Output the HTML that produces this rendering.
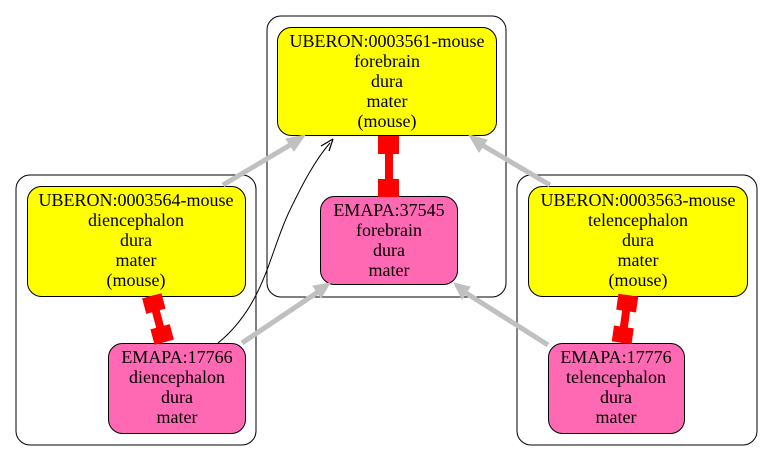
<!DOCTYPE html>
<html><head><style>body{margin:0;background:#fff}svg{display:block}</style></head>
<body>
<svg width="773" height="461" viewBox="0 0 773 461" xmlns="http://www.w3.org/2000/svg" font-family="'Liberation Serif', 'Times New Roman', serif" font-size="18">
<g fill="none" stroke="#000" stroke-width="1">
<rect x="267" y="16" width="239" height="281" rx="14"/>
<rect x="16" y="175" width="240" height="270" rx="14"/>
<rect x="517" y="175" width="240" height="270" rx="14"/>
</g>
<g stroke="#000" stroke-width="1">
<rect x="277.5" y="27.5" width="219" height="108" rx="14" fill="#ffff00"/>
<rect x="320.5" y="196.5" width="137" height="88" rx="14" fill="#ff69b4"/>
<rect x="27.5" y="186.5" width="218" height="110" rx="14" fill="#ffff00"/>
<rect x="108.5" y="343.5" width="137" height="90" rx="14" fill="#ff69b4"/>
<rect x="528.5" y="186.5" width="219" height="110" rx="14" fill="#ffff00"/>
<rect x="548.5" y="343.5" width="136" height="90" rx="14" fill="#ff69b4"/>
</g>
<g stroke="#c0c0c0" stroke-width="5" fill="#c0c0c0">
<line x1="223" y1="185" x2="290" y2="145"/>
<polygon points="305,135 286,139 294,151" stroke-width="1"/>
<line x1="550" y1="185" x2="482" y2="145"/>
<polygon points="469,135 479,152 487,140" stroke-width="1"/>
<line x1="242" y1="343" x2="318" y2="292"/>
<polygon points="330,283 313,286 321,298" stroke-width="1"/>
<line x1="548" y1="345" x2="466" y2="293"/>
<polygon points="454,283 462,299 470,287" stroke-width="1"/>
</g>
<path d="M218,343 C265,305 270,250 290,210 C302,185 315,160 330,143" fill="none" stroke="#000" stroke-width="1"/>
<path d="M333,139 L321,146 M333,139 L329,151" stroke="#000" stroke-width="1.2" fill="none"/>
<g fill="#ff0000">
<rect x="385" y="136" width="8" height="60"/>
<rect x="378" y="136" width="21" height="18"/>
<rect x="378" y="179" width="21" height="18"/>
<g transform="translate(158,319) rotate(-15)">
<rect x="-4" y="-24" width="8" height="48"/>
<rect x="-10" y="-24" width="20" height="16"/>
<rect x="-10" y="8" width="20" height="16"/>
</g>
<g transform="translate(625,319) rotate(8)">
<rect x="-4" y="-24" width="8" height="48"/>
<rect x="-10" y="-24" width="20" height="16"/>
<rect x="-10" y="8" width="20" height="16"/>
</g>
</g>
<g text-anchor="middle" fill="#000">
<text x="387" y="47">UBERON:0003561-mouse</text>
<text x="387" y="67">forebrain</text>
<text x="387" y="87">dura</text>
<text x="387" y="107">mater</text>
<text x="387" y="127">(mouse)</text>
<text x="389" y="216">EMAPA:37545</text>
<text x="389" y="236">forebrain</text>
<text x="389" y="256">dura</text>
<text x="389" y="276">mater</text>
<text x="136" y="206">UBERON:0003564-mouse</text>
<text x="136" y="226">diencephalon</text>
<text x="136" y="246">dura</text>
<text x="136" y="266">mater</text>
<text x="136" y="286">(mouse)</text>
<text x="177" y="363">EMAPA:17766</text>
<text x="177" y="383">diencephalon</text>
<text x="177" y="403">dura</text>
<text x="177" y="423">mater</text>
<text x="638" y="206">UBERON:0003563-mouse</text>
<text x="638" y="226">telencephalon</text>
<text x="638" y="246">dura</text>
<text x="638" y="266">mater</text>
<text x="638" y="286">(mouse)</text>
<text x="616" y="363">EMAPA:17776</text>
<text x="616" y="383">telencephalon</text>
<text x="616" y="403">dura</text>
<text x="616" y="423">mater</text>
</g>
</svg>
</body></html>
